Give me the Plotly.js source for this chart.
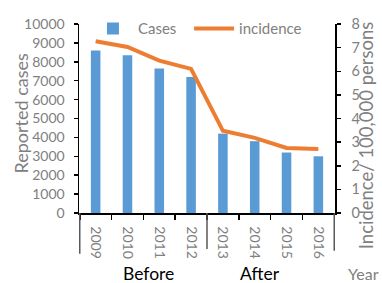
<!DOCTYPE html>
<html>
<head>
<meta charset="utf-8">
<script src="https://cdn.plot.ly/plotly-3.0.1.min.js"></script>
<style>html,body{margin:0;padding:0;background:#fff;}#chart{width:382px;height:283px;}</style>
</head>
<body>
<div id="chart"></div>
<script>
const years = ['2009', '2010', '2011', '2012', '2013', '2014', '2015', '2016'];
const cases = [8600, 8350, 7650, 7200, 4200, 3800, 3200, 3000];
const incidence = [7.27, 7.03, 6.45, 6.1, 3.48, 3.18, 2.75, 2.71];
const groupLabels = ['Before', 'After'];
const yTicks = [0, 1000, 2000, 3000, 4000, 5000, 6000, 7000, 8000, 9000, 10000];
const yTickText = ['0', '1000', '2000', '3000', '4000', '5000', '6000', '7000', '8000', '9000', '10000'];

const FONT = 'Lato, "Open Sans", "Liberation Sans", sans-serif';
const GRAY = '#808080';

const traces = [
  {
    type: 'bar', name: 'Cases', x: years, y: cases,
    marker: {color: '#5B9BD5'}, width: 0.3, legend: 'legend'
  },
  {
    type: 'scatter', mode: 'lines', name: 'incidence', x: years, y: incidence,
    yaxis: 'y2', line: {color: '#ED7D31', width: 4}, legend: 'legend2'
  }
];

const legendBase = {
  orientation: 'h', xanchor: 'left', y: 0.975, yanchor: 'middle',
  bgcolor: 'rgba(0,0,0,0)', font: {family: FONT, size: 15, color: GRAY},
  itemwidth: 40
};

const layout = {
  width: 382, height: 283,
  margin: {l: 79, r: 47, t: 17, b: 70},
  paper_bgcolor: '#fff', plot_bgcolor: '#fff',
  font: {family: FONT, color: GRAY, size: 14},
  showlegend: true,
  legend: Object.assign({}, legendBase, {x: 0.035}),
  legend2: Object.assign({}, legendBase, {x: 0.43}),
  xaxis: {
    type: 'category', showline: true, linecolor: '#000', linewidth: 1.5,
    ticks: 'outside', ticklen: 5, tickcolor: '#000', tickwidth: 1.5,
    tickson: 'boundaries', tickangle: 90, showgrid: false, zeroline: false,
    ticklabelstandoff: 9,
    tickfont: {family: FONT, size: 14, color: GRAY}, fixedrange: true
  },
  yaxis: {
    range: [0, 10000], tickvals: yTicks, ticktext: yTickText, showline: true, linecolor: '#000', linewidth: 1.5,
    ticks: 'outside', ticklen: 4, tickcolor: '#000', tickwidth: 1.5,
    showgrid: false, zeroline: false, ticklabelstandoff: 6,
    tickfont: {family: FONT, size: 14, color: GRAY}
  },
  yaxis2: {
    range: [0, 8], dtick: 1, overlaying: 'y', side: 'right',
    showline: true, linecolor: '#000', linewidth: 1.5,
    ticks: 'outside', ticklen: 4, tickcolor: '#000', tickwidth: 1.5,
    showgrid: false, zeroline: false, ticklabelstandoff: 8,
    tickfont: {family: FONT, size: 14.5, color: GRAY}
  },
  shapes: [
    {type: 'line', xref: 'x', yref: 'paper', x0: -0.5, x1: -0.5, y0: 0, y1: -0.215, line: {color: '#595959', width: 1.5}},
    {type: 'line', xref: 'x', yref: 'paper', x0: 3.5, x1: 3.5, y0: 0, y1: -0.19, line: {color: '#595959', width: 1.5}},
    {type: 'line', xref: 'x', yref: 'paper', x0: 7.5, x1: 7.5, y0: 0, y1: -0.2, line: {color: '#595959', width: 1.5}}
  ],
  annotations: [
    {text: 'Reported cases', xref: 'paper', yref: 'paper', x: -0.227, y: 0.526, textangle: -90,
     showarrow: false, xanchor: 'center', yanchor: 'middle', font: {family: FONT, size: 18, color: GRAY}},
    {text: 'Incidence/ 100,000 persons', xref: 'paper', yref: 'paper', x: 1.12, y: 0.41, textangle: -90,
     showarrow: false, xanchor: 'center', yanchor: 'middle', font: {family: FONT, size: 18.5, color: GRAY}},
    {text: groupLabels[0], xref: 'paper', yref: 'paper', x: 0.273, y: -0.322, showarrow: false,
     xanchor: 'center', yanchor: 'middle', font: {family: FONT, size: 17.5, color: '#000'}},
    {text: groupLabels[1], xref: 'paper', yref: 'paper', x: 0.707, y: -0.322, showarrow: false,
     xanchor: 'center', yanchor: 'middle', font: {family: FONT, size: 17.5, color: '#000'}},
    {text: 'Year', xref: 'paper', yref: 'paper', x: 1.113, y: -0.322, showarrow: false,
     xanchor: 'center', yanchor: 'middle', font: {family: FONT, size: 16, color: GRAY}}
  ]
};

Plotly.newPlot('chart', traces, layout, {displayModeBar: false, staticPlot: true});
</script>
</body>
</html>
